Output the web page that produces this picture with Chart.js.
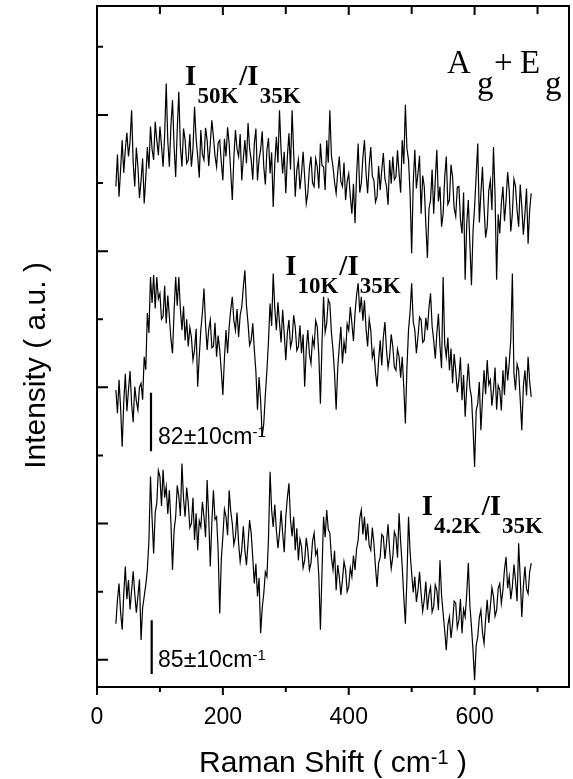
<!DOCTYPE html>
<html>
<head>
<meta charset="utf-8">
<script src="https://cdn.jsdelivr.net/npm/chart.js@4.4.1/dist/chart.umd.min.js"></script>
<style>
  body { margin: 0; background: #fff; }
  #wrap { width: 573px; height: 779px; position: relative; }
</style>
</head>
<body>
<div id="wrap"><canvas id="ramanChart"></canvas></div>
<script>
// Raman shift (cm-1) of every sample
const shifts = [
  30,32.5,35,37.5,40,42.5,45,47.5,50,52.5,55,57.5,60,62.5,65,67.5,70,72.5,75,77.5,
  80,82.5,85,87.5,90,92.5,95,97.5,100,102.5,105,107.5,110,112.5,115,117.5,120,122.5,125,127.5,
  130,132.5,135,137.5,140,142.5,145,147.5,150,152.5,155,157.5,160,162.5,165,167.5,170,172.5,175,177.5,
  180,182.5,185,187.5,190,192.5,195,197.5,200,202.5,205,207.5,210,212.5,215,217.5,220,222.5,225,227.5,
  230,232.5,235,237.5,240,242.5,245,247.5,250,252.5,255,257.5,260,262.5,265,267.5,270,272.5,275,277.5,
  280,282.5,285,287.5,290,292.5,295,297.5,300,302.5,305,307.5,310,312.5,315,317.5,320,322.5,325,327.5,
  330,332.5,335,337.5,340,342.5,345,347.5,350,352.5,355,357.5,360,362.5,365,367.5,370,372.5,375,377.5,
  380,382.5,385,387.5,390,392.5,395,397.5,400,402.5,405,407.5,410,412.5,415,417.5,420,422.5,425,427.5,
  430,432.5,435,437.5,440,442.5,445,447.5,450,452.5,455,457.5,460,462.5,465,467.5,470,472.5,475,477.5,
  480,482.5,485,487.5,490,492.5,495,497.5,500,502.5,505,507.5,510,512.5,515,517.5,520,522.5,525,527.5,
  530,532.5,535,537.5,540,542.5,545,547.5,550,552.5,555,557.5,560,562.5,565,567.5,570,572.5,575,577.5,
  580,582.5,585,587.5,590,592.5,595,597.5,600,602.5,605,607.5,610,612.5,615,617.5,620,622.5,625,627.5,
  630,632.5,635,637.5,640,642.5,645,647.5,650,652.5,655,657.5,660,662.5,665,667.5,670,672.5,675,677.5,
  680,682.5,685,687.5,690];

// ratio spectra, already offset for stacking (a.u.)
const ratio50K = [
  73.5,78.2,72.0,76.0,80.3,75.5,78.9,81.4,77.9,80.1,84.7,77.0,73.5,79.2,76.4,71.8,74.4,77.6,71.0,74.8,
  79.3,76.1,82.3,79.0,77.4,83.0,80.3,78.1,82.3,79.5,76.4,81.0,88.6,80.2,76.4,82.5,86.2,79.4,74.9,81.9,
  87.4,79.3,76.4,82.0,80.3,76.9,77.4,81.2,76.4,79.0,85.2,80.5,77.9,74.8,81.8,78.2,77.4,82.1,80.3,76.5,
  79.8,83.2,80.8,78.0,76.4,79.9,80.3,77.1,74.4,80.5,77.9,82.2,79.8,75.6,71.5,77.8,81.8,79.0,77.9,81.2,
  74.4,77.6,80.3,76.9,82.8,79.1,77.4,74.5,79.8,82.0,74.4,77.5,78.9,81.6,76.4,73.8,78.9,80.6,75.4,78.5,
  70.5,76.8,80.8,77.0,84.7,78.8,75.4,78.6,72.5,77.9,81.3,76.0,84.7,78.5,72.0,75.9,77.4,73.1,75.4,78.6,
  74.9,71.0,72.5,76.2,77.9,74.0,73.5,77.6,76.4,73.2,79.8,76.6,76.4,73.0,80.3,77.0,84.7,78.0,76.4,74.1,
  72.5,75.6,77.9,74.2,73.5,77.0,71.5,74.3,75.4,72.0,69.5,73.9,68.1,75.2,79.8,72.6,74.0,77.8,80.3,75.5,
  72.5,76.6,79.3,75.0,74.4,71.2,72.0,76.5,73.0,75.9,78.4,74.6,73.5,70.8,77.4,73.9,77.9,74.5,74.9,78.8,
  75.4,72.6,80.3,76.8,85.5,79.0,77.4,72.4,63.7,74.0,78.9,73.2,75.4,78.0,69.5,75.1,73.5,68.0,63.0,70.2,
  71.5,76.0,69.5,74.4,78.9,71.3,73.5,67.6,69.5,74.8,77.9,70.9,71.5,76.7,74.9,70.3,69.1,73.4,73.5,68.7,
  66.6,72.6,59.8,68.0,71.5,65.0,59.0,66.9,70.5,75.1,79.8,68.2,72.5,76.4,70.5,66.0,67.6,72.9,74.4,70.0,
  79.3,72.2,59.8,69.4,66.6,71.0,73.5,68.4,71.5,75.6,73.0,66.9,69.5,74.6,73.5,70.0,67.6,73.8,70.5,66.4,
  69.5,73.2,65.1,70.1,72.5];

const ratio10K = [
  43.6,40.2,45.1,41.0,35.3,41.8,46.0,40.5,43.6,46.4,41.6,38.9,44.1,42.0,40.7,44.0,44.6,42.2,48.5,46.6,
  54.9,52.0,60.2,56.4,60.5,55.6,60.2,57.0,57.8,54.0,54.4,58.9,53.4,57.5,54.4,51.0,49.0,55.2,60.2,56.0,
  60.2,55.5,52.4,55.9,50.9,54.0,50.0,52.8,51.4,48.0,49.5,52.6,44.1,48.6,52.4,55.0,58.5,53.2,49.5,52.5,
  53.9,49.8,50.0,53.5,48.5,51.6,49.5,46.4,42.9,48.3,52.4,49.0,52.9,55.4,57.3,53.8,52.4,55.5,51.4,54.6,
  55.8,58.7,61.2,56.0,53.4,50.2,50.9,53.4,49.5,46.3,40.7,45.5,42.1,36.8,38.7,42.9,46.5,50.8,56.3,53.0,
  60.7,55.6,52.4,56.5,53.4,50.6,55.4,51.9,48.0,52.0,53.9,49.9,50.9,54.6,52.9,49.4,50.0,53.1,49.0,51.8,
  44.1,49.6,52.4,48.9,47.5,51.2,50.0,53.8,52.9,48.7,41.6,50.4,57.3,52.1,53.4,56.9,56.3,52.0,49.5,46.0,
  40.7,46.8,50.0,52.9,47.5,50.7,49.0,53.3,52.4,55.8,53.4,50.8,54.9,57.6,59.3,55.0,57.3,53.8,56.8,52.6,
  50.0,54.0,52.4,48.4,49.5,46.2,44.1,48.0,50.9,47.2,51.4,53.6,49.5,46.9,48.5,51.8,50.0,47.0,46.5,49.6,
  48.5,45.4,48.5,44.0,38.7,46.9,52.4,55.1,59.3,53.6,52.4,49.0,51.4,54.3,53.9,50.6,50.9,54.2,52.4,55.7,
  57.8,53.0,50.9,48.2,51.9,54.8,50.0,46.8,60.2,50.3,48.5,51.3,46.5,49.7,44.6,48.9,46.5,43.3,45.1,48.4,
  42.1,45.8,39.7,44.0,47.5,43.9,42.6,38.0,32.3,40.6,41.6,44.8,37.7,42.3,46.5,43.0,48.0,44.4,45.1,41.3,
  43.6,46.9,40.7,44.3,43.6,40.6,46.5,42.9,48.5,45.0,47.5,51.0,60.7,46.1,43.6,47.4,46.5,42.2,37.7,44.2,
  46.5,42.8,48.5,44.8,42.6];

const ratio4K = [
  9.3,12.8,15.2,11.0,8.4,13.6,17.7,12.9,15.7,11.4,14.2,17.0,13.7,10.9,13.3,15.8,6.9,11.6,13.3,15.0,
  17.2,21.5,30.9,24.8,19.6,25.6,27.0,31.8,30.9,26.6,31.9,27.8,29.4,25.4,28.9,24.1,17.2,23.0,25.0,29.6,
  28.0,25.1,32.8,27.6,25.0,29.3,27.0,23.4,24.0,27.8,21.6,25.5,20.1,24.4,23.5,27.2,25.0,22.0,30.4,24.9,
  17.7,24.2,28.9,24.6,25.0,20.0,10.8,18.7,22.1,26.1,25.0,22.3,28.9,25.8,24.0,20.9,22.1,25.6,21.1,18.4,
  20.1,23.6,20.1,17.9,21.1,24.5,22.6,19.0,15.2,18.1,13.3,16.0,7.9,11.6,13.7,16.9,16.2,21.8,31.6,26.0,
  23.5,26.8,23.1,20.4,22.6,25.9,22.6,19.8,25.0,27.8,29.9,24.5,22.1,25.0,20.1,23.3,18.6,21.7,20.6,17.5,
  18.6,21.9,20.1,17.2,18.2,21.4,22.6,19.4,20.1,16.3,8.4,16.9,25.0,22.0,26.0,23.1,22.6,19.0,17.2,20.0,
  14.2,17.9,16.2,13.5,15.7,18.4,17.2,14.0,14.7,17.5,16.2,19.3,17.2,20.3,21.6,24.8,26.0,22.4,25.0,21.5,
  24.0,20.8,20.1,23.4,21.1,17.6,14.7,18.2,19.1,22.4,22.1,18.8,21.1,23.9,20.1,17.4,19.1,22.8,22.1,19.0,
  25.5,21.3,17.7,13.2,9.3,16.0,25.0,19.8,16.7,13.9,16.2,12.5,14.2,16.9,13.7,11.1,12.8,15.5,11.3,13.6,
  14.7,11.0,11.8,15.0,14.2,11.3,18.6,13.5,10.8,8.3,5.4,9.1,10.3,7.2,9.3,12.6,12.3,8.7,9.8,12.9,
  7.9,11.4,10.3,13.7,18.2,12.0,8.9,5.3,1.0,6.1,7.4,10.2,11.3,8.0,6.4,9.9,12.8,9.4,11.8,14.6,
  13.3,10.4,11.3,14.5,15.2,12.3,14.2,17.3,19.1,14.5,16.2,12.9,14.7,18.0,15.7,12.6,21.1,16.0,10.3,14.8,
  17.7,14.4,13.7,16.9,18.2];

// gap markers: position and vertical extent
const markerShift = [85.8, 86.9];
const markerTop = [43.2, 9.8];
const markerBottom = [34.6, 1.9];
const markerText = ['82\u00b110cm', '85\u00b110cm'];

// axes
const xMajorTicks = [0, 200, 400, 600];
const xMinorTicks = [100, 300, 500, 700];
const xTickLabels = ['0', '200', '400', '600'];
const yMajorTicks = [4, 24, 44, 64, 84];
const yMinorTicks = [14, 34, 54, 74, 94];

const SANS = '"Liberation Sans", Arial, sans-serif';
const SERIF = '"Liberation Serif", "Times New Roman", serif';

function toPoints(ys) {
    return shifts.map((x, i) => ({ x: x, y: ys[i] }));
}

function drawRuns(ctx, x, y, runs) {
    let cx = x;
    runs.forEach(r => {
        ctx.font = r.font;
        ctx.fillText(r.text, cx + (r.dx || 0), y + (r.dy || 0));
        cx += ctx.measureText(r.text).width + (r.dx || 0);
    });
    return cx;
}

const frameAndText = {
    id: 'frameAndText',
    afterDraw(chart) {
        const ctx = chart.ctx;
        const a = chart.chartArea;
        const xs = chart.scales.x;
        const ys = chart.scales.y;
        ctx.save();
        ctx.strokeStyle = '#000';
        ctx.fillStyle = '#000';
        ctx.lineWidth = 2;
        ctx.strokeRect(a.left, a.top, a.right - a.left, a.bottom - a.top);

        ctx.beginPath();
        xMajorTicks.forEach(v => {
            const px = xs.getPixelForValue(v);
            ctx.moveTo(px, a.bottom); ctx.lineTo(px, a.bottom + 8);
            if (v > 0) { ctx.moveTo(px, a.top); ctx.lineTo(px, a.top + 9); }
        });
        xMinorTicks.forEach(v => {
            const px = xs.getPixelForValue(v);
            ctx.moveTo(px, a.bottom); ctx.lineTo(px, a.bottom + 5);
            ctx.moveTo(px, a.top); ctx.lineTo(px, a.top + 8);
        });
        yMajorTicks.forEach(v => {
            const py = ys.getPixelForValue(v);
            ctx.moveTo(a.left, py); ctx.lineTo(a.left + 11, py);
        });
        yMinorTicks.forEach(v => {
            const py = ys.getPixelForValue(v);
            ctx.moveTo(a.left, py); ctx.lineTo(a.left + 6, py);
        });
        ctx.stroke();

        // tick labels
        ctx.textAlign = 'center';
        ctx.textBaseline = 'alphabetic';
        ctx.font = '23px ' + SANS;
        xMajorTicks.forEach((v, i) => {
            ctx.fillText(xTickLabels[i], xs.getPixelForValue(v), a.bottom + 37);
        });

        // x title with superscript
        ctx.textAlign = 'left';
        const big = '30px ' + SANS, sup = '20px ' + SANS;
        const parts = [
            { text: 'Raman Shift ( cm', font: big },
            { text: '-1', font: sup, dy: -8 },
            { text: ' )', font: big }
        ];
        let w = 0;
        parts.forEach(p => { ctx.font = p.font; w += ctx.measureText(p.text).width; });
        drawRuns(ctx, (a.left + a.right) / 2 - w / 2, a.bottom + 85, parts);

        // y title
        ctx.save();
        ctx.translate(45, (a.top + a.bottom) / 2 + 19);
        ctx.rotate(-Math.PI / 2);
        ctx.textAlign = 'center';
        ctx.font = big;
        ctx.fillText('Intensity ( a.u. )', 0, 0);
        ctx.restore();

        // gap marker labels
        ctx.textAlign = 'left';
        markerText.forEach((t, i) => {
            const px = xs.getPixelForValue(97);
            const py = ys.getPixelForValue(markerBottom[i]) - 7;
            drawRuns(ctx, px, py, [
                { text: t, font: '23px ' + SANS },
                { text: '-1', font: '15px ' + SANS, dy: -7 }
            ]);
        });

        // series labels
        const bigI = 'bold 29px ' + SERIF, subI = 'bold 23px ' + SERIF;
        const ratioLabel = (x, y, num) => {
            drawRuns(ctx, xs.getPixelForValue(x), ys.getPixelForValue(y), [
                { text: 'I', font: bigI },
                { text: num, font: subI, dy: 18, dx: 1 },
                { text: '/I', font: bigI, dx: 1 },
                { text: '35K', font: subI, dy: 18, dx: 1 }
            ]);
        };
        ratioLabel(140, 88.4, '50K');
        ratioLabel(299, 60.5, '10K');
        ratioLabel(516, 25.3, '4.2K');

        // symmetry label
        const sym = '33px ' + SERIF;
        const ax = xs.getPixelForValue(556), ay = ys.getPixelForValue(90.2);
        ctx.font = sym;
        ctx.fillText('A', ax, ay);
        ctx.fillText('g', ax + 30, ay + 21);
        ctx.fillText('+', ax + 47, ay);
        ctx.fillText('E', ax + 73, ay);
        ctx.fillText('g', ax + 98, ay + 21);
        ctx.restore();
    }
};

const lineStyle = { borderColor: '#000', borderWidth: 1.2, pointRadius: 0, tension: 0, fill: false };
const datasets = [
    Object.assign({ label: 'I50K/I35K', data: toPoints(ratio50K) }, lineStyle),
    Object.assign({ label: 'I10K/I35K', data: toPoints(ratio10K) }, lineStyle),
    Object.assign({ label: 'I4.2K/I35K', data: toPoints(ratio4K) }, lineStyle)
];
markerShift.forEach((x, i) => {
    datasets.push({
        label: 'gap ' + (i + 1),
        data: [{ x: x, y: markerTop[i] }, { x: x, y: markerBottom[i] }],
        borderColor: '#000', borderWidth: 2.2, pointRadius: 0, fill: false
    });
});

new Chart(document.getElementById('ramanChart'), {
    type: 'line',
    data: { datasets: datasets },
    options: {
        responsive: true,
        maintainAspectRatio: false,
        animation: false,
        layout: { padding: { left: 97, right: 4, top: 6, bottom: 92 } },
        plugins: { legend: { display: false }, tooltip: { enabled: false } },
        scales: {
            x: { type: 'linear', min: 0, max: 750, display: false },
            y: { type: 'linear', min: 0, max: 100, display: false }
        }
    },
    plugins: [frameAndText]
});
</script>
</body>
</html>
